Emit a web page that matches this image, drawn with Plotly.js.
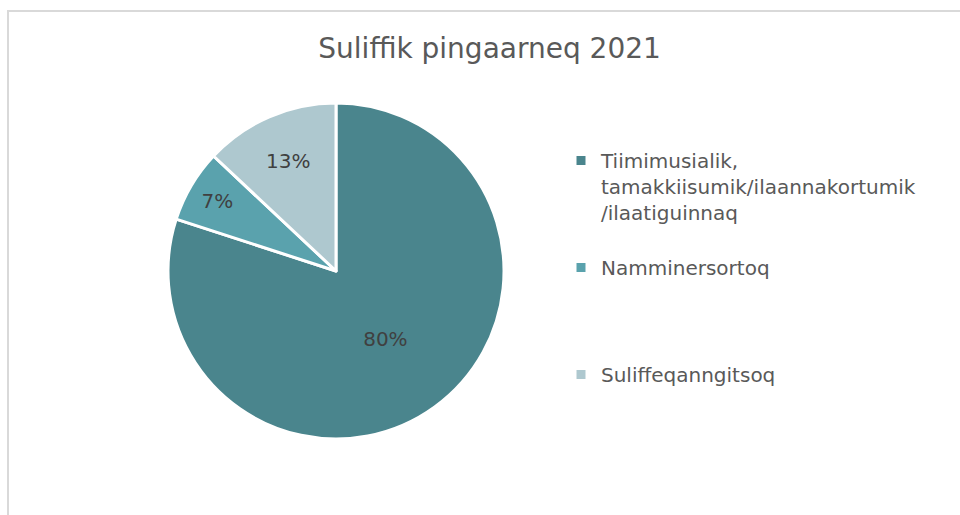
<!DOCTYPE html>
<html>
<head>
<meta charset="utf-8">
<script src="https://cdn.plot.ly/plotly-3.0.1.min.js"></script>
<style>html,body{margin:0;padding:0;background:#fff;}#chart{width:960px;height:515px;}</style>
</head>
<body>
<div id="chart"></div>
<script>
const categories = [
  "Tiimimusialik,<br>tamakkiisumik/ilaannakortumik<br>/ilaatiguinnaq",
  "Namminersortoq",
  "Suliffeqanngitsoq"
];
const values = [80, 7, 13];
const colors = ["#4a858d", "#5aa2ad", "#aec8cf"];
const titleText = "Suliffik pingaarneq 2021";

// blank lines appended to each legend entry, only to space the legend like the original
const legendPadLines = [1, 3, 0];
const legendLabels = categories.map((c, i) => c + "<br> ".repeat(legendPadLines[i]));

const W = 960, H = 515;
const cx = 336, cy = 271, r = 168;
const FONT = "DejaVu Sans, Verdana, sans-serif";

const trace = {
  type: "pie",
  labels: legendLabels,
  values: values,
  sort: false,
  direction: "clockwise",
  rotation: 0,
  marker: { colors: colors, line: { color: "#ffffff", width: 3 } },
  textinfo: "percent",
  texttemplate: "%{percent:.0%}",
  textposition: "inside",
  insidetextorientation: "horizontal",
  textfont: { family: FONT, size: 20, color: "#404040" },
  hoverinfo: "none",
  domain: {
    x: [(cx - r) / W, (cx + r) / W],
    y: [(H - cy - r) / H, (H - cy + r) / H]
  }
};

const layout = {
  width: W, height: H,
  margin: { l: 0, r: 0, t: 0, b: 0, pad: 0 },
  paper_bgcolor: "#ffffff",
  title: {
    text: titleText,
    x: 0.51, xanchor: "center",
    y: 1 - 48 / H, yanchor: "middle",
    font: { family: FONT, size: 28, color: "#595959" }
  },
  showlegend: true,
  legend: {
    x: 561 / W, xanchor: "left",
    y: 1 - 141 / H, yanchor: "top",
    valign: "top",
    font: { family: FONT, size: 20, color: "#595959" },
    bgcolor: "rgba(0,0,0,0)",
    itemclick: false
  },
  shapes: [{
    type: "rect", xref: "paper", yref: "paper",
    x0: 8 / W, x1: 1.02, y0: -0.02, y1: 1 - 11 / H,
    line: { color: "#d9d9d9", width: 2 }
  }]
};

Plotly.newPlot("chart", [trace], layout, { staticPlot: true, displayModeBar: false });
</script>
</body>
</html>
